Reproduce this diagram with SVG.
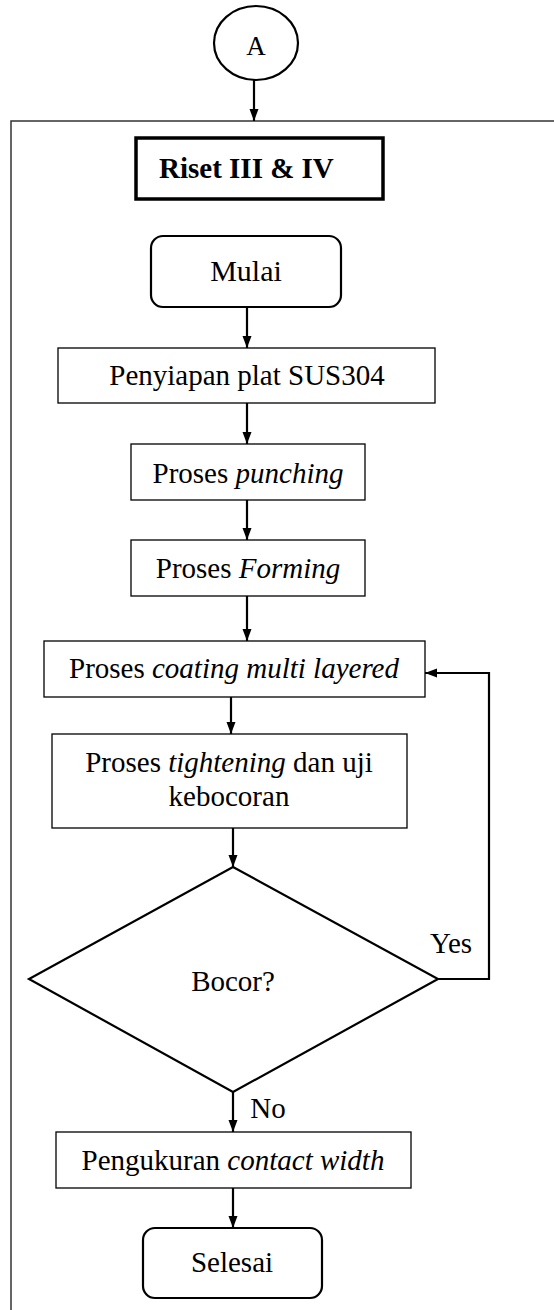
<svg xmlns="http://www.w3.org/2000/svg" width="554" height="1310" viewBox="0 0 554 1310">
<style>
text{font-family:"Liberation Serif","Times New Roman",serif;font-size:29px;fill:#000;text-anchor:middle}
.b{fill:#fff;stroke:#000;stroke-width:1.3}
.r{fill:#fff;stroke:#000;stroke-width:2.2}
.c{fill:none;stroke:#000;stroke-width:2.2}
.i{font-style:italic}
</style>
<defs>
<marker id="ah" markerUnits="userSpaceOnUse" markerWidth="12" markerHeight="12" viewBox="0 0 12 12" refX="12" refY="6" orient="auto">
<path d="M0,1.5 L12,6 L0,10.5 Z" fill="#000"/>
</marker>
</defs>
<g id="frame">
<path d="M11,1310 V121 H554" fill="none" stroke="#333" stroke-width="1.5"/>
</g>
<g id="connectors">
<line class="c" x1="254" y1="80" x2="254" y2="121" marker-end="url(#ah)"/>
<line class="c" x1="247" y1="307" x2="247" y2="348" marker-end="url(#ah)"/>
<line class="c" x1="247" y1="403" x2="247" y2="444" marker-end="url(#ah)"/>
<line class="c" x1="247" y1="500" x2="247" y2="540" marker-end="url(#ah)"/>
<line class="c" x1="247" y1="596" x2="247" y2="641" marker-end="url(#ah)"/>
<line class="c" x1="231" y1="697" x2="231" y2="734" marker-end="url(#ah)"/>
<line class="c" x1="233" y1="828" x2="233" y2="867" marker-end="url(#ah)"/>
<path class="c" d="M438,979 H489 V673 H425" marker-end="url(#ah)"/>
<line class="c" x1="233" y1="1092" x2="233" y2="1132" marker-end="url(#ah)"/>
<line class="c" x1="233" y1="1188" x2="233" y2="1228" marker-end="url(#ah)"/>
<text x="451" y="953">Yes</text>
<text x="268" y="1118">No</text>
</g>
<g id="nodeA">
<ellipse cx="256" cy="43" rx="42" ry="37" class="r"/>
<text x="256" y="55" style="font-size:27px">A</text>
</g>
<g id="riset">
<rect x="136" y="138" width="247" height="61" fill="#fff" stroke="#000" stroke-width="3.5"/>
<text x="159" y="178" style="font-weight:bold;text-anchor:start">Riset III &amp; IV</text>
</g>
<g id="mulai">
<rect x="151" y="236" width="190" height="71" rx="12" class="r"/>
<text x="246" y="281" style="font-size:30px">Mulai</text>
</g>
<g id="penyiapan">
<rect x="58" y="348" width="377" height="55" class="b"/>
<text x="247" y="385">Penyiapan plat SUS304</text>
</g>
<g id="punching">
<rect x="131" y="444" width="234" height="56" class="b"/>
<text x="248" y="483">Proses <tspan class="i">punching</tspan></text>
</g>
<g id="forming">
<rect x="131" y="540" width="234" height="56" class="b"/>
<text x="248" y="578">Proses <tspan class="i">Forming</tspan></text>
</g>
<g id="coating">
<rect x="44" y="641" width="381" height="56" class="b"/>
<text x="234" y="678">Proses <tspan class="i">coating multi layered</tspan></text>
</g>
<g id="tightening">
<rect x="52" y="734" width="355" height="94" class="b"/>
<text x="229" y="772">Proses <tspan class="i">tightening</tspan> dan uji</text>
<text x="229" y="806">kebocoran</text>
</g>
<g id="bocor">
<polygon points="233,867 438,979 233,1092 29,979" class="r"/>
<text x="233" y="991">Bocor?</text>
</g>
<g id="pengukuran">
<rect x="56" y="1132" width="355" height="56" class="b"/>
<text x="233" y="1170">Pengukuran <tspan class="i">contact width</tspan></text>
</g>
<g id="selesai">
<rect x="143" y="1228" width="179" height="70" rx="12" class="r"/>
<text x="232" y="1272">Selesai</text>
</g>
</svg>
